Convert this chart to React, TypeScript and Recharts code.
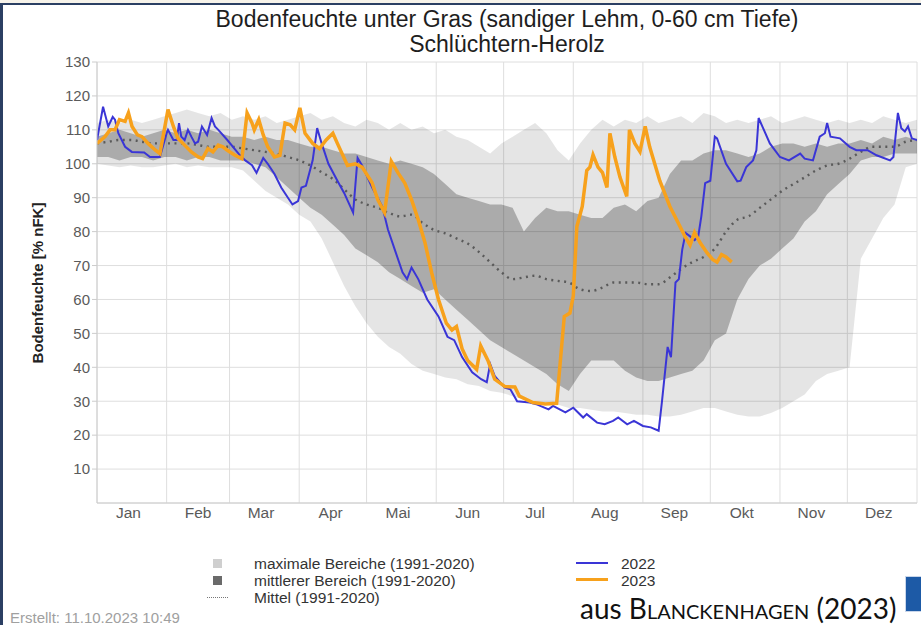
import { Area, CartesianGrid, ComposedChart, Line, XAxis, YAxis } from "recharts";

const MONTHS = ["Jan", "Feb", "Mar", "Apr", "Mai", "Jun", "Jul", "Aug", "Sep", "Okt", "Nov", "Dez"];
const MONTH_STARTS = [0, 31, 59, 90, 120, 151, 181, 212, 243, 273, 304, 334, 365];
const MONTH_LABEL_DAYS = [14, 45, 73, 104, 134, 165, 195, 226, 257, 287, 318, 348];
const Y_TICKS = [10, 20, 30, 40, 50, 60, 70, 80, 90, 100, 110, 120, 130];

// climate bands 1991-2020, sampled every 5 days
const BAND_DAYS = [
  0, 5, 10, 15, 20, 25, 30, 35, 40, 45,
  50, 55, 60, 65, 70, 75, 80, 85, 90, 95,
  100, 105, 110, 115, 120, 125, 130, 135, 140, 145,
  150, 155, 160, 165, 170, 175, 180, 185, 190, 195,
  200, 205, 210, 215, 220, 225, 230, 235, 240, 245,
  250, 255, 260, 265, 270, 275, 280, 285, 290, 295,
  300, 305, 310, 315, 320, 325, 330, 335, 340, 345,
  350, 355, 360, 365,
];
const MAX_LO = [
  100, 99.5, 99, 99.5, 99, 99, 99.5, 100, 99, 99.5,
  99, 99, 99, 98, 95, 92, 90, 88, 85, 83,
  78, 71, 64, 58, 53, 49, 46, 44, 41, 39,
  38, 37, 36.5, 35, 34.5, 33, 32.5, 31.5, 30.5, 30,
  29, 29, 28, 28, 27.5, 27, 27, 26.5, 26, 26,
  25.5, 25.5, 26, 27, 28, 28, 27, 26, 25.5, 25.5,
  26.5, 28, 30, 32, 36, 38, 39, 40, 72, 78,
  84, 88, 99, 100,
];
const MAX_HI = [
  112, 113, 112, 113, 112, 113, 114, 115, 116, 115,
  114, 115, 113, 114, 113, 114, 112, 113, 114, 115,
  113, 114, 112, 111, 113, 112, 110, 112, 110, 111,
  109, 110, 108, 107, 105, 103, 106, 108, 110, 112,
  109, 104, 101, 106, 110, 113, 111, 113, 112, 114,
  112, 113, 114, 112, 115, 114, 112, 113, 112, 113,
  114, 112, 113, 114, 113, 112, 113, 112, 113, 112,
  114, 113, 112, 113,
];
const MID_LO = [
  102, 102, 101, 102, 102, 101, 102, 102, 101, 102,
  102, 101, 101, 101, 100, 99, 96, 93, 90, 87,
  85, 82, 79, 75, 73, 71, 68, 66, 64, 62,
  63, 60, 57, 54, 51, 48, 46, 44, 42, 40,
  38, 35, 33, 38, 42, 42, 42, 39, 37, 36,
  36, 37, 38, 39, 42, 48, 50, 60, 66, 70,
  72, 75, 78, 83, 86, 91, 94, 97, 101, 102,
  102, 103, 103, 103,
];
const MID_HI = [
  108, 109, 110, 109, 108, 109, 110, 109, 110, 109,
  110, 109, 108, 108, 107, 108, 107, 107, 106, 105,
  105, 104, 103, 103, 102, 101, 100, 101, 100, 99,
  97, 94, 91, 90, 89, 88, 88, 87, 80, 84,
  87, 86, 86, 85, 84, 84, 87, 88, 86, 89,
  90, 97, 101, 101, 103, 104, 104, 103, 102, 103,
  105, 106, 106, 105, 106, 105, 106, 106, 107, 106,
  108, 107, 108, 107,
];
const MEAN = [
  106, 106.5, 107, 107, 106.5, 106, 106, 106, 106, 105.5,
  105, 105, 105, 104.5, 104, 103.5, 103, 102, 101, 99.5,
  97.5, 95.5, 92.5, 89.5, 88, 87, 85.5, 84.5, 85, 82.5,
  80.5, 79.5, 78, 76.5, 74, 71, 68, 66, 66.5, 67,
  66, 65.5, 65, 63, 62.5, 63.5, 65, 65, 65, 64.5,
  64.5, 66.5, 69, 71, 72.5, 75, 80, 83.5, 84.5, 87,
  89.5, 92, 94, 96, 98, 99.5, 100, 101.5, 103.5, 105,
  105, 105, 106.5, 107,
];

// [day of year, % nFK]
const SOIL_2022 = [
  [0, 107], [2.7, 116.8], [5, 111], [7, 113.8], [8, 113], [9.5, 109], [12.5, 105], [15.5, 103.5],
  [21, 103.3], [23.6, 102], [28, 102], [31, 109], [31.6, 110], [34, 107], [35.5, 107], [36.5, 112],
  [37.5, 108], [39, 107], [40.5, 110], [42, 108], [43.6, 106], [45, 106.5], [46.7, 111], [49, 108.5],
  [51, 113.5], [52.5, 111], [54, 110], [58, 107], [63, 103], [66, 101], [69, 99.6], [71, 97.3],
  [74, 101.7], [76, 100], [79, 97], [82, 93], [85, 90], [87, 88], [89.5, 89], [91, 93],
  [93, 93.5], [96, 101], [98, 110.5], [100, 106], [103, 100], [107, 95], [110, 91.4], [114, 85.6],
  [116, 101.7], [118, 99.5], [122.5, 93], [127, 87.4], [129.5, 80.6], [133, 73.8], [136, 68], [138, 66],
  [140, 69.4], [143, 66], [147, 60], [152, 55], [156, 49], [159, 48], [162.5, 43], [167, 38.5],
  [171, 36.5], [173.5, 35.6], [175, 41], [177, 37.5], [181.5, 34], [184, 33.5], [187, 30], [192.6, 29.6],
  [196, 29], [201, 27.6], [203, 28.6], [208.5, 26.7], [212, 28.1], [216.4, 25.2], [218, 26.2], [222.6, 23.7],
  [226, 23.2], [229.7, 24.2], [232, 25.2], [236, 23.2], [239, 24.2], [243, 22.7], [246.5, 22.3], [250, 21.3],
  [251.5, 30], [254, 46], [255.5, 43], [257.5, 65], [259, 66], [260.5, 74.7], [262, 79.6], [264, 78.6],
  [266, 77.5], [267.6, 78.5], [269, 84.5], [270.7, 94.3], [273, 95], [275, 108], [276, 107.5], [280, 100],
  [285, 94.8], [286.5, 95], [289, 99], [292, 101], [293.5, 104], [294.5, 113.5], [296.5, 110.5], [299.5, 106],
  [304, 102], [308, 101], [313, 103], [315, 101.5], [318.7, 101], [321.7, 108], [324, 109], [325, 112],
  [326.5, 108], [330.7, 107.5], [335, 105], [338, 104], [343, 104], [347, 102.5], [353, 101], [354.5, 102],
  [356.5, 115], [358, 110.5], [359.6, 109.5], [361, 111], [362.7, 107.5], [365, 107],
];
const SOIL_2023 = [
  [0, 106], [3.6, 108], [5.8, 110], [8, 110], [10, 113], [12.5, 112.5], [14, 115], [15.6, 111],
  [18, 108.5], [20, 108], [22.7, 106], [26, 104], [28, 103], [29.4, 108], [31.6, 116], [34, 111],
  [36, 107.5], [39, 105.5], [42, 103.5], [45, 102], [47, 101.5], [49.4, 104.5], [51.6, 103.5], [54, 105.5],
  [56, 105], [58, 104], [61.4, 102.5], [64.5, 101.5], [66.8, 115], [69, 112], [70, 110], [72, 113],
  [74, 108.5], [76, 105], [79, 102], [81.4, 102.5], [83.7, 112], [86, 111.5], [88, 110], [90.3, 116.5],
  [92.6, 109], [96, 106], [99, 104.5], [102, 107], [105, 109], [107, 106], [111.5, 99.5], [115, 100],
  [118, 99], [122.4, 94.5], [125, 89.4], [128, 85.6], [131, 100.7], [134, 97.3], [137, 94.3], [140, 89.4],
  [143, 83.5], [146, 76.7], [149, 67.8], [152, 60], [155.5, 53], [158, 51], [160, 52], [162.5, 45.5],
  [165, 42], [169, 39.4], [170.8, 46.3], [174, 42], [177, 36.5], [181.6, 34.3], [186, 34.2], [188, 31.5],
  [194, 29.6], [199.6, 29.2], [204.6, 29.4], [206, 40], [208, 55], [210.5, 56], [212, 61], [213.6, 81.5],
  [216, 87.4], [218, 98], [219.4, 99], [220.8, 102.6], [223, 99], [225, 97.4], [227, 93], [228.3, 109],
  [230.5, 102], [232.8, 96], [235.8, 90.4], [237, 110], [239.4, 106], [241.7, 103.6], [244, 111], [246, 105],
  [250.5, 95], [255, 87.4], [258, 83.5], [261.7, 78.6], [264, 76], [266, 79.8], [268.4, 76.8], [271.5, 73.8],
  [274, 71.8], [276, 71], [278, 73.2], [280, 72.5], [282.5, 71],
];

const bandData = BAND_DAYS.map((day, i) => ({
  day,
  maxRange: [MAX_LO[i], MAX_HI[i]],
  midRange: [MID_LO[i], MID_HI[i]],
  mean: MEAN[i],
}));
const data2022 = SOIL_2022.map(([day, v]) => ({ day, v }));
const data2023 = SOIL_2023.map(([day, v]) => ({ day, v }));

const FONT = '"Liberation Sans", Arial, sans-serif';

function MonthTick({ x, y, payload }: any) {
  const i = MONTH_LABEL_DAYS.indexOf(payload.value);
  return (
    <text x={x} y={y} dy={12} textAnchor="middle" fill="#5a5a5a" fontSize={15.5} fontFamily={FONT}>
      {MONTHS[i]}
    </text>
  );
}

function monthLines({ xAxis, offset }: any) {
  if (xAxis && typeof xAxis.scale === "function") {
    return MONTH_STARTS.map((d) => xAxis.scale(d));
  }
  return MONTH_STARTS.map((d) => offset.left + (d / 365) * offset.width);
}

const legendText = { position: "absolute", fontSize: 15.5, color: "#333", lineHeight: "17px" } as const;

export default function App() {
  return (
    <div
      style={{
        position: "absolute",
        left: 0,
        top: 0,
        width: 921,
        height: 625,
        overflow: "hidden",
        background: "#fff",
        fontFamily: FONT,
      }}
    >
      <div style={{ position: "absolute", left: 0, top: 0, width: 921, height: 3, background: "#f7f3ea" }} />
      <div style={{ position: "absolute", left: 0, top: 3, width: 921, height: 2, background: "#2b3f63" }} />
      <div style={{ position: "absolute", left: 0, top: 3, width: 3, height: 622, background: "#2b3f63" }} />

      <ComposedChart
        width={921}
        height={625}
        data={bandData}
        margin={{ top: 62, right: 4, bottom: 92, left: 57 }}
      >
        <CartesianGrid stroke="#dedede" verticalCoordinatesGenerator={monthLines} />
        <XAxis
          dataKey="day"
          type="number"
          domain={[0, 365]}
          ticks={MONTH_LABEL_DAYS}
          interval={0}
          tick={<MonthTick />}
          tickLine={false}
          tickSize={0}
          tickMargin={3}
          height={30}
          stroke="#cccccc"
          allowDataOverflow
        />
        <YAxis
          type="number"
          domain={[0, 130]}
          ticks={Y_TICKS}
          interval={0}
          width={40}
          tickSize={5}
          stroke="#cccccc"
          tick={{ fill: "#5a5a5a", fontSize: 15, fontFamily: FONT }}
        />
        <Area
          dataKey="maxRange"
          type="linear"
          stroke="none"
          fill="#000"
          fillOpacity={0.1}
          isAnimationActive={false}
        />
        <Area
          dataKey="midRange"
          type="linear"
          stroke="none"
          fill="#000"
          fillOpacity={0.25}
          isAnimationActive={false}
        />
        <Line
          dataKey="mean"
          type="monotone"
          stroke="#5a5a5a"
          strokeWidth={2.4}
          strokeDasharray="2 4.5"
          dot={false}
          isAnimationActive={false}
        />
        <Line
          data={data2022}
          dataKey="v"
          type="linear"
          stroke="#3a35d6"
          strokeWidth={2}
          dot={false}
          isAnimationActive={false}
        />
        <Line
          data={data2023}
          dataKey="v"
          type="linear"
          stroke="#f7a11c"
          strokeWidth={3.5}
          dot={false}
          isAnimationActive={false}
        />
      </ComposedChart>

      <div
        style={{
          position: "absolute",
          left: 97,
          width: 820,
          top: 7,
          textAlign: "center",
          fontSize: 23,
          lineHeight: "25px",
          color: "#1e1e1e",
        }}
      >
        Bodenfeuchte unter Gras (sandiger Lehm, 0-60 cm Tiefe)
        <br />
        Schlüchtern-Herolz
      </div>

      <div
        style={{
          position: "absolute",
          left: 37,
          top: 283,
          transform: "translate(-50%, -50%) rotate(-90deg)",
          whiteSpace: "nowrap",
          fontSize: 15,
          fontWeight: "bold",
          color: "#222",
        }}
      >
        Bodenfeuchte [% nFK]
      </div>

      {/* legend */}
      <div style={{ position: "absolute", left: 213, top: 559, width: 9, height: 9, background: "#cfcfcf" }} />
      <div style={{ position: "absolute", left: 213, top: 576, width: 9, height: 9, background: "#6a6a6a" }} />
      <div style={{ position: "absolute", left: 207, top: 597, width: 21, borderTop: "1.5px dotted #777" }} />
      <div style={{ ...legendText, left: 254, top: 555 }}>maximale Bereiche (1991-2020)</div>
      <div style={{ ...legendText, left: 254, top: 572 }}>mittlerer Bereich (1991-2020)</div>
      <div style={{ ...legendText, left: 254, top: 589 }}>Mittel (1991-2020)</div>

      <div style={{ position: "absolute", left: 576, top: 562, width: 32, height: 2, background: "#3a35d6" }} />
      <div style={{ position: "absolute", left: 576, top: 578, width: 32, height: 3, background: "#f7a11c" }} />
      <div style={{ ...legendText, left: 621, top: 555 }}>2022</div>
      <div style={{ ...legendText, left: 621, top: 572 }}>2023</div>

      <div style={{ position: "absolute", left: 10, top: 609, fontSize: 15, color: "#a0a0a0" }}>
        Erstellt: 11.10.2023 10:49
      </div>

      <div
        style={{
          position: "absolute",
          left: 580,
          top: 593,
          fontSize: 28,
          lineHeight: "30px",
          color: "#111",
          fontFamily: "Lato, 'Open Sans', sans-serif",
          whiteSpace: "nowrap",
        }}
      >
        aus <span style={{ fontVariant: "small-caps" }}>Blanckenhagen</span> (2023)
      </div>

      <div
        style={{
          position: "absolute",
          left: 905,
          top: 576,
          width: 18,
          height: 34,
          background: "#1d5aa6",
          border: "1px solid #c9d6ea",
        }}
      />
    </div>
  );
}
